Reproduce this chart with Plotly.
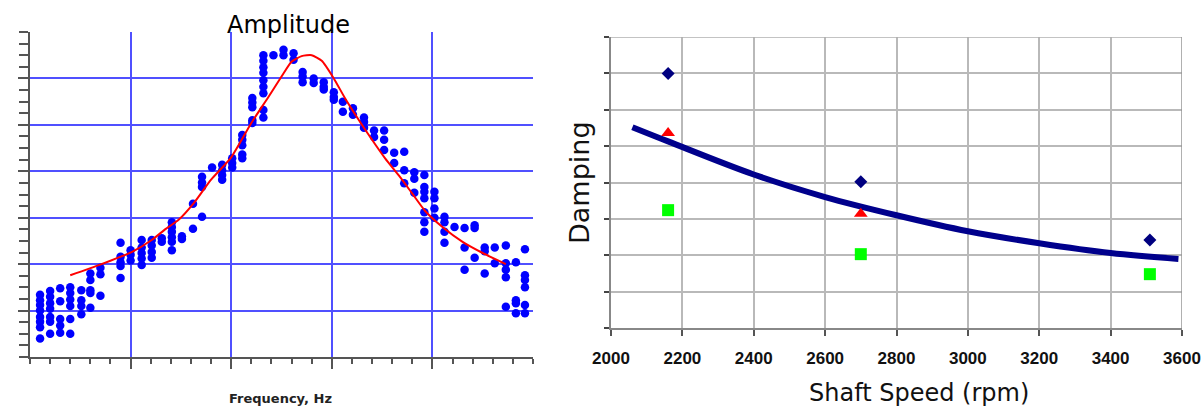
import plotly.graph_objects as go

# ---------------- Left chart: Amplitude vs Frequency ----------------
freq_cols = [10, 20, 30, 40, 51, 60, 70, 90, 100, 111, 121, 131, 141, 151, 162, 171, 181, 191, 201, 211,
             221, 232, 242, 252, 262, 271, 282, 292, 302, 311, 321, 332, 342, 352, 362, 372, 382, 392,
             402, 412, 422, 432, 442, 452, 462, 473, 483, 492]
amp_cols = [
    [67, 61, 56, 50, 43, 38, 32, 20],
    [71, 65, 58, 52, 43, 38, 25],
    [74, 60, 41, 34, 26],
    [75, 69, 62, 55, 41, 25],
    [72, 61, 55, 46],
    [90, 83, 72, 69, 53],
    [96, 89, 66],
    [123, 108, 102, 98, 85],
    [115, 110, 104],
    [126, 118, 112, 106, 99],
    [126, 120, 113, 107],
    [128, 124],
    [145, 140, 135, 129, 124, 115],
    [130, 127],
    [165, 138],
    [194, 188, 183, 151],
    [204],
    [207, 201, 196, 191],
    [214, 209, 204],
    [239, 234, 228, 218, 214],
    [279, 274, 269, 255, 252],
    [325, 319, 312, 306, 298, 291, 284, 266, 258],
    [325],
    [331, 325],
    [327, 320],
    [307, 302, 296],
    [300, 295],
    [296, 291, 288],
    [285, 280, 277],
    [275, 264],
    [268, 261],
    [258, 253, 247],
    [244, 237],
    [244, 234, 223],
    [220, 209],
    [221, 201, 187],
    [199, 192, 177],
    [196, 183, 178, 171, 156, 145, 135],
    [178, 171, 160, 150],
    [151, 145, 135, 123],
    [140],
    [139, 118, 94],
    [142, 139, 107],
    [118, 114, 90],
    [118, 101],
    [120, 101, 94, 86, 54],
    [102, 61, 58, 47],
    [116, 88, 83, 75, 56, 47],
]

fit_freq = [40, 71, 101, 121, 135, 148, 163, 180, 200, 220, 237, 250, 260, 270, 280, 290, 302, 313,
            327, 340, 353, 367, 380, 393, 410, 430, 450, 473]
fit_amp = [88, 100, 113, 126, 138, 148, 166, 191, 215, 252, 280, 302, 318, 324, 325, 319, 300, 279,
           255, 234, 214, 195, 176, 157, 140, 124, 112, 100]

# ---------------- Right chart: Damping vs Shaft Speed ----------------
speed_pts = [2160, 2700, 3510]
damp_diamond = [7.0, 4.02, 2.42]
speed_tri = [2160, 2700]
damp_tri = [5.36, 3.14]
damp_square = [3.24, 2.03, 1.48]

speed_fit = [2060, 2160, 2400, 2600, 2800, 3000, 3200, 3400, 3590]
damp_fit = [5.52, 5.13, 4.22, 3.6, 3.1, 2.66, 2.33, 2.06, 1.9]

speed_ticks = [2000, 2200, 2400, 2600, 2800, 3000, 3200, 3400, 3600]

# flatten scatter columns
fx, fy = [], []
for xv, ys in zip(freq_cols, amp_cols):
    for yv in ys:
        fx.append(xv)
        fy.append(yv)

W, H = 1203, 407

fig = go.Figure()

fig.add_trace(go.Scatter(x=fx, y=fy, mode="markers", xaxis="x", yaxis="y",
                         marker=dict(color="rgb(0,0,255)", size=8.5, line=dict(width=0)),
                         showlegend=False))
fig.add_trace(go.Scatter(x=fit_freq, y=fit_amp, mode="lines", xaxis="x", yaxis="y",
                         line=dict(color="rgb(255,0,0)", width=2, shape="spline", smoothing=0.6),
                         showlegend=False))

fig.add_trace(go.Scatter(x=speed_fit, y=damp_fit, mode="lines", xaxis="x2", yaxis="y2",
                         line=dict(color="rgb(0,0,140)", width=6, shape="spline", smoothing=1.0),
                         showlegend=False))
fig.add_trace(go.Scatter(x=speed_pts, y=damp_diamond, mode="markers", xaxis="x2", yaxis="y2",
                         marker=dict(symbol="diamond", color="rgb(0,0,128)", size=10, line=dict(width=0)),
                         showlegend=False))
fig.add_trace(go.Scatter(x=speed_tri, y=damp_tri, mode="markers", xaxis="x2", yaxis="y2",
                         marker=dict(symbol="triangle-up", color="rgb(255,0,0)", size=12, line=dict(width=0)),
                         showlegend=False))
fig.add_trace(go.Scatter(x=speed_pts, y=damp_square, mode="markers", xaxis="x2", yaxis="y2",
                         marker=dict(symbol="square", color="rgb(0,255,0)", size=12, line=dict(width=0)),
                         showlegend=False))

blue_grid = "rgb(80,80,255)"
axis_dark = "#555555"

fig.update_layout(
    width=W, height=H,
    margin=dict(l=0, r=0, t=0, b=0, autoexpand=False),
    paper_bgcolor="white", plot_bgcolor="white",
    xaxis=dict(domain=[30 / W, 533 / W], range=[0, 500], anchor="y", automargin=False,
               tickmode="array", tickvals=[100, 200, 300, 400], showticklabels=False,
               showgrid=True, gridcolor=blue_grid, gridwidth=2, zeroline=False,
               showline=True, linecolor=axis_dark, linewidth=2,
               ticks="outside", ticklen=10, tickcolor=axis_dark, tickwidth=1.5,
               minor=dict(tickmode="linear", tick0=0, dtick=20, ticks="outside", ticklen=5,
                          tickcolor=axis_dark, tickwidth=1.5, showgrid=False)),
    yaxis=dict(domain=[1 - 357 / H, 1 - 32 / H], range=[0, 350], anchor="x", automargin=False,
               tickmode="array", tickvals=[50, 100, 150, 200, 250, 300], showticklabels=False,
               showgrid=True, gridcolor=blue_grid, gridwidth=2, zeroline=False,
               showline=True, linecolor=axis_dark, linewidth=2,
               ticks="outside", ticklen=10, tickcolor=axis_dark, tickwidth=1.5,
               minor=dict(tickmode="linear", tick0=0, dtick=12.5, ticks="outside", ticklen=9,
                          tickcolor=axis_dark, tickwidth=1.5, showgrid=False)),
    xaxis2=dict(domain=[611 / W, 1182 / W], range=[2000, 3600], anchor="y2", automargin=False,
                tickmode="array", tickvals=speed_ticks,
                ticktext=["<b>%d</b>" % v for v in speed_ticks],
                showgrid=True, gridcolor="rgb(185,185,185)", gridwidth=1.5, zeroline=False,
                showline=True, linecolor="#888888", linewidth=2, mirror=False,
                ticks="outside", ticklen=6, tickcolor="#555555", tickwidth=1.5,
                ticklabelstandoff=8,
                tickfont=dict(family="Liberation Sans", size=17, color="#111111")),
    yaxis2=dict(domain=[1 - 328 / H, 1 - 37 / H], range=[0, 8], anchor="x2", automargin=False,
                tickmode="linear", tick0=0, dtick=1, showticklabels=False,
                showgrid=True, gridcolor="rgb(185,185,185)", gridwidth=1.5, zeroline=False,
                showline=True, linecolor="#888888", linewidth=2,
                ticks="outside", ticklen=5, tickcolor="#444444", tickwidth=2),
    annotations=[
        dict(text="Amplitude", x=288 / W, y=1 - 25 / H, xref="paper", yref="paper",
             showarrow=False, xanchor="center", yanchor="middle",
             font=dict(family="DejaVu Sans", size=24, color="black")),
        dict(text="<b>Frequency, Hz</b>", x=280 / W, y=1 - 398 / H, xref="paper", yref="paper",
             showarrow=False, xanchor="center", yanchor="middle",
             font=dict(family="DejaVu Sans", size=13, color="#222222")),
        dict(text="Shaft Speed (rpm)", x=919 / W, y=1 - 393 / H, xref="paper", yref="paper",
             showarrow=False, xanchor="center", yanchor="middle",
             font=dict(family="DejaVu Sans", size=24, color="#111111")),
        dict(text="Damping", x=579 / W, y=1 - 183 / H, xref="paper", yref="paper",
             showarrow=False, xanchor="center", yanchor="middle", textangle=-90,
             font=dict(family="DejaVu Sans", size=27, color="#111111")),
    ],
)

# top and right borders of the right chart
fig.add_shape(type="line", xref="x2", yref="y2", x0=2000, x1=3600, y0=8, y1=8,
              line=dict(color="rgb(175,175,175)", width=1.5))
fig.add_shape(type="line", xref="x2", yref="y2", x0=3600, x1=3600, y0=0, y1=8,
              line=dict(color="rgb(150,150,150)", width=1.5))

fig.write_html("out.html")
